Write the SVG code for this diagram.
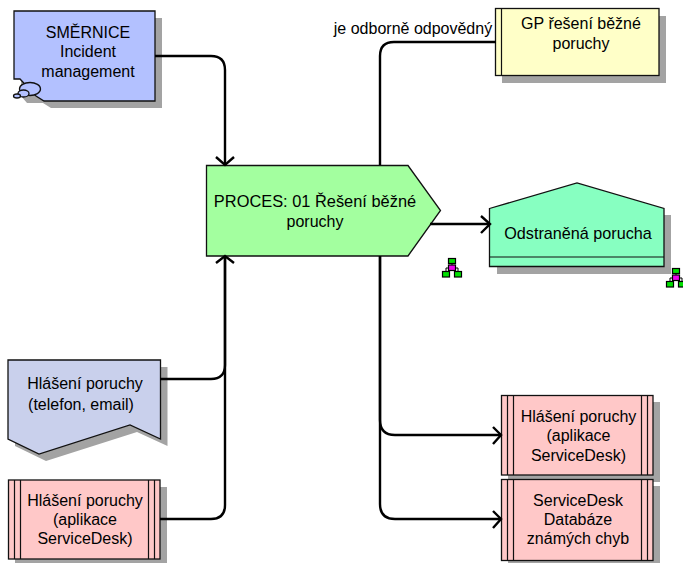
<svg xmlns="http://www.w3.org/2000/svg" width="683" height="563" viewBox="0 0 683 563">
<style>
text{font-family:"Liberation Sans",Arial,sans-serif;font-size:16px;fill:#000;text-anchor:middle}
.s{fill:#a3a3a3;stroke:none}
.n{stroke:#111;stroke-width:1.3;stroke-linejoin:miter}
.l{fill:none;stroke:#111;stroke-width:1.2}
.c{fill:none;stroke:#000;stroke-width:2.4}
.g{fill:#00e000;stroke:#000;stroke-width:1.2}
.m{fill:#f000f0;stroke:#000;stroke-width:1.2}
.t{fill:none;stroke:#000;stroke-width:1}
</style>
<defs>
<g id="tree">
<path class="t" d="M10 3V8M4 14V10H16V14"/>
<rect class="g" x="6.500" y="0.500" width="7" height="5"/>
<rect class="m" x="6.500" y="7" width="7" height="5.500"/>
<rect class="g" x="0.500" y="13.500" width="7" height="5.500"/>
<rect class="g" x="12.500" y="13.500" width="7" height="5.500"/>
</g>
</defs>
<g id="smernice">
<path class="s" d="M21 18H162V108H51L43 103H27L21 96Z"/>
<path class="n" fill="#b3c1ff" d="M14 11H155V101H44L36 96L20 79L14 79Z"/>
<ellipse class="n" fill="#b3c1ff" cx="30" cy="89" rx="10.500" ry="6.500"/>
<ellipse class="n" fill="#b3c1ff" cx="23.500" cy="93.500" rx="5.500" ry="3.500"/>
<ellipse class="n" fill="#b3c1ff" cx="17" cy="96" rx="3.500" ry="2"/>
<text x="88" y="38">SMĚRNICE</text>
<text x="88" y="57">Incident</text>
<text x="88" y="77">management</text>
</g>
<g id="gp">
<rect class="s" x="502" y="16" width="164" height="67"/>
<rect class="n" fill="#ffffc8" x="495.500" y="8.500" width="163.500" height="67"/>
<path class="l" d="M501.500 8.500V75.500"/>
<text x="581" y="29">GP řešení běžné</text>
<text x="581" y="49">poruchy</text>
</g>
<text x="413" y="34">je odborně odpovědný</text>
<g id="proces">
<path class="n" fill="#a3ff9f" d="M206.500 165.500H408L440.500 210.500L408 256H206.500Z"/>
<text x="315" y="207" style="font-size:16.4px">PROCES: 01 Řešení běžné</text>
<text x="315" y="227">poruchy</text>
</g>
<g id="odstranena">
<path class="s" d="M664 215H671V274H497V266H664Z"/>
<path class="n" fill="#87ffc1" d="M489.500 208.500L577 183L664 208.500V266.500H489.500Z"/>
<path class="l" d="M489.500 257H664"/>
<text x="578" y="239" style="font-size:16.2px">Odstraněná porucha</text>
</g>
<g id="hlaseni-telefon">
<path class="s" d="M15 367H167.500V446L137 432L46 461L15 446Z"/>
<path class="n" fill="#c9d0ec" d="M8 360H160.500V439L130 425L39 454L8 439Z"/>
<text x="85" y="389">Hlášení poruchy</text>
<text x="81" y="410">(telefon, email)</text>
</g>
<g id="hlaseni-aplikace-vstup">
<rect class="s" x="15" y="487" width="152" height="79"/>
<rect class="n" fill="#ffc8c8" x="8.500" y="480" width="151.500" height="79"/>
<path class="l" d="M14.500 480V559M20.500 480V559M148.500 480V559M154.500 480V559"/>
<text x="85" y="506">Hlášení poruchy</text>
<text x="85" y="525">(aplikace</text>
<text x="85" y="544">ServiceDesk)</text>
</g>
<g id="hlaseni-aplikace-vystup">
<rect class="s" x="508" y="402" width="152" height="80"/>
<rect class="n" fill="#ffc8c8" x="501.500" y="395.500" width="151.500" height="79.500"/>
<path class="l" d="M507.500 395.500V475M513.500 395.500V475M641.500 395.500V475M647.500 395.500V475"/>
<text x="578.500" y="422">Hlášení poruchy</text>
<text x="578.500" y="441">(aplikace</text>
<text x="578.500" y="461">ServiceDesk)</text>
</g>
<g id="databaze">
<rect class="s" x="508" y="486" width="152" height="81"/>
<rect class="n" fill="#ffc8c8" x="501.500" y="479.500" width="151.500" height="81"/>
<path class="l" d="M507.500 479.500V560.500M513.500 479.500V560.500M641.500 479.500V560.500M647.500 479.500V560.500"/>
<text x="578" y="506">ServiceDesk</text>
<text x="578" y="525">Databáze</text>
<text x="578" y="544">známých chyb</text>
</g>
<g id="connectors">
<path class="c" d="M155 56H211Q225 56 225 70V165"/>
<path class="c" d="M216 157L225 165L234 157"/>
<path class="c" d="M160 379H211Q225 379 225 365V257"/>
<path class="c" d="M160 519H211Q225 519 225 505V257"/>
<path class="c" d="M216 263L225 256L234 263"/>
<path class="c" d="M380 165V56Q380 42 394 42H496"/>
<path class="c" d="M380 256V420Q380 435 395 435H501"/>
<path class="c" d="M380 256V504Q380 519 395 519H501"/>
<path class="c" d="M493 427L501 435L493 444"/>
<path class="c" d="M493 511L501 519L493 528"/>
<path class="c" d="M430 224H489"/>
<path class="c" d="M481 216L490 224L481 233"/>
</g>
<use id="tree-proces" href="#tree" x="442" y="258"/>
<use id="tree-odstranena" href="#tree" x="666" y="268"/>
</svg>
